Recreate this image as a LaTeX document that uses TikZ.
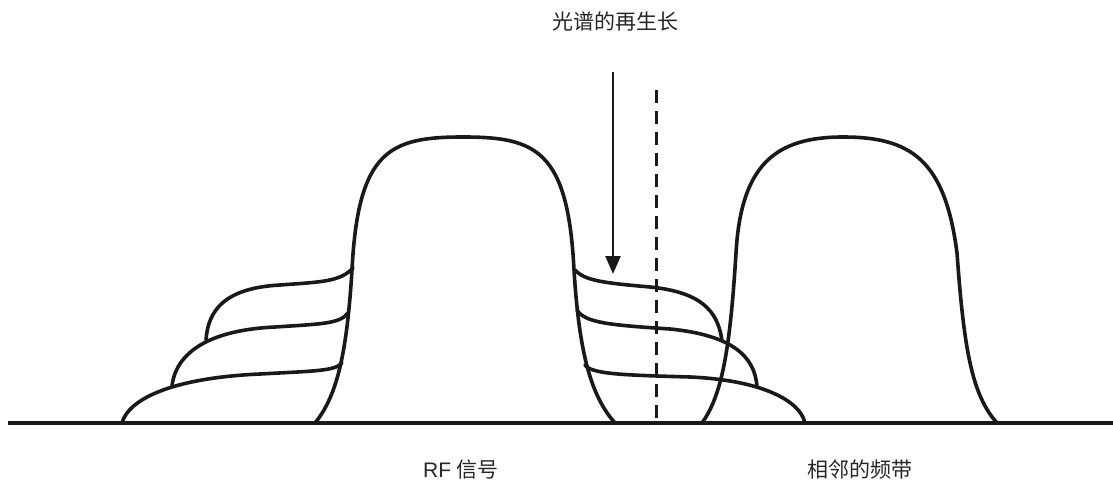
\documentclass[tikz,border=0pt]{standalone}
\usepackage{fontspec}
\setmainfont{Liberation Sans}
\newfontfamily\cjk{Noto Sans CJK SC}
\usetikzlibrary{arrows.meta}
\tikzset{
  curve/.style={line width=3.6pt, line join=round, line cap=round, black!90},
  baseline/.style={line width=4.5pt, black!90},
  lbl/.style={font=\fontsize{21}{21}\selectfont, inner sep=0pt, text=black!85},
  arrowline/.style={line width=2.4pt, black!90, -{Triangle[length=18pt,width=15pt]}},
  dashline/.style={line width=3pt, black!90, dash pattern=on 13pt off 8pt}
}
\begin{document}
\begin{tikzpicture}[x=1pt,y=-1pt]
\useasboundingbox (0,0) rectangle (1113,484);
% baseline
\coordinate (b0) at (8,423);
\coordinate (b1) at (1113,423);
\draw[baseline] (b0) -- (b1);
% main RF signal bump
\draw[curve] (315,423) .. controls (338,395) and (347,350) .. (352,270)
  .. controls (358,150) and (390,137) .. (463,137)
  .. controls (536,137) and (568,150) .. (574,270)
  .. controls (579,350) and (590,395) .. (615,423);
% adjacent band bump
\draw[curve] (702,423) .. controls (722,395) and (730,350) .. (736,253)
  .. controls (741,165) and (775,137) .. (843,137)
  .. controls (911,137) and (945,160) .. (957,253)
  .. controls (964,350) and (972,395) .. (997,423);
% left shoulders
\draw[curve] (353,268) .. controls (340,282) and (320,282) .. (280,285)
  .. controls (225,288) and (208,310) .. (206,340);
\draw[curve] (348,313) .. controls (340,324) and (320,324) .. (275,327)
  .. controls (210,330) and (176,352) .. (172,386);
\draw[curve] (342,363) .. controls (335,371) and (315,371) .. (260,374)
  .. controls (170,378) and (128,400) .. (122,423);
% right shoulders
\draw[curve] (575,270) .. controls (585,281) and (605,283) .. (650,287)
  .. controls (700,292) and (718,310) .. (722,341);
\draw[curve] (577,310) .. controls (585,323) and (610,325) .. (670,329)
  .. controls (730,335) and (755,355) .. (757,387);
\draw[curve] (585,365) .. controls (592,374) and (620,375) .. (690,377)
  .. controls (760,380) and (800,400) .. (805,423);
% arrow and dashed line
\coordinate (a0) at (613,72);
\coordinate (a1) at (613,274);
\draw[arrowline] (a0) -- (a1);
\coordinate (d0) at (656,90);
\coordinate (d1) at (656,423);
\draw[dashline] (d0) -- (d1);
% labels
\node[lbl] (regrowth) at (615,22) {\cjk 光谱的再生长};
\node[lbl] (rf) at (461,470) {RF {\cjk 信号}};
\node[lbl] (adj) at (860,470) {\cjk 相邻的频带};
\end{tikzpicture}
\end{document}
